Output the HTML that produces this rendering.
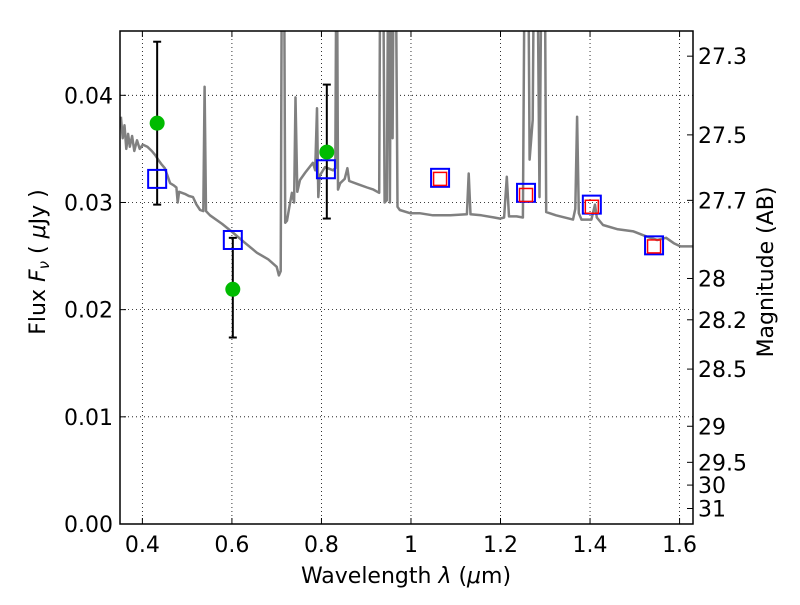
<!DOCTYPE html>
<html><head><meta charset="utf-8"><style>
body{margin:0;background:#fff;}
svg text{font-family:"DejaVu Sans","Liberation Sans",sans-serif;fill:#000;}
</style></head><body>
<svg id="chart" width="800" height="600" xmlns="http://www.w3.org/2000/svg">
<rect width="800" height="600" fill="#fff"/>
<g id="grid"></g>
<g id="spec"></g>
<g id="marks"></g>
<rect x="120" y="31" width="573" height="493" fill="none" stroke="#000" stroke-width="1.5"/>
<g id="axes"></g>
<text x="406" y="583" font-size="22" text-anchor="middle">Wavelength  <tspan font-style="italic">λ</tspan> (<tspan font-style="italic">μ</tspan>m)</text>
<text transform="translate(45,262) rotate(-90)" font-size="22" text-anchor="middle">Flux  <tspan font-style="italic">F</tspan><tspan font-style="italic" font-size="15" dy="4">ν</tspan><tspan dy="-4">  ( </tspan><tspan font-style="italic">μ</tspan>Jy )</text>
<text transform="translate(773,272) rotate(-90)" font-size="22" text-anchor="middle">Magnitude (AB)</text>
</svg>
<script>
const xTicks=[0.4,0.6,0.8,1.0,1.2,1.4,1.6];
const xTickLabels=["0.4","0.6","0.8","1","1.2","1.4","1.6"];
const yTicks=[0,0.01,0.02,0.03,0.04];
const yTickLabels=["0.00","0.01","0.02","0.03","0.04"];
const magTicks=[27.3,27.5,27.7,28,28.2,28.5,29,29.5,30,31];
const magTickLabels=["27.3","27.5","27.7","28","28.2","28.5","29","29.5","30","31"];
const obsLam=[0.433,0.602,0.812];
const obsFlux=[0.0374,0.0219,0.0347];
const obsLo=[0.0298,0.0174,0.0285];
const obsHi=[0.0450,0.0267,0.0410];
const modelLam=[0.433,0.602,0.81,1.065,1.257,1.404,1.543];
const modelFlux=[0.0322,0.0265,0.0331,0.0323,0.0309,0.0298,0.0260];
const nirLam=[1.065,1.257,1.404,1.543];
const nirFlux=[0.0322,0.0307,0.0296,0.0259];
const specLam=[0.352,0.356,0.360,0.364,0.368,0.372,0.377,0.382,0.388,0.394,0.401,0.411,0.421,0.429,0.435,0.442,0.450,0.456,0.462,0.470,0.476,0.479,0.482,0.495,0.504,0.513,0.521,0.529,0.536,0.539,0.542,0.551,0.578,0.602,0.627,0.656,0.681,0.700,0.705,0.709,0.712,0.716,0.719,0.723,0.728,0.734,0.739,0.742,0.746,0.752,0.764,0.781,0.786,0.790,0.793,0.796,0.808,0.826,0.831,0.834,0.837,0.842,0.852,0.858,0.862,0.882,0.902,0.916,0.929,0.932,0.937,0.941,0.946,0.950,0.953,0.956,0.959,0.962,0.965,0.970,0.975,0.998,1.019,1.049,1.088,1.125,1.129,1.133,1.157,1.186,1.199,1.208,1.214,1.219,1.236,1.250,1.255,1.261,1.265,1.272,1.276,1.281,1.287,1.293,1.298,1.302,1.324,1.362,1.367,1.371,1.375,1.381,1.389,1.403,1.411,1.415,1.429,1.462,1.497,1.528,1.550,1.570,1.587,1.602,1.630];
const specFlux=[0.0380,0.0360,0.0372,0.0350,0.0364,0.0352,0.0362,0.0348,0.0358,0.0350,0.0354,0.0352,0.0348,0.0344,0.0340,0.0336,0.0332,0.0325,0.0318,0.0316,0.0314,0.0300,0.0310,0.0308,0.0306,0.0305,0.0298,0.0293,0.0292,0.0408,0.0292,0.0288,0.0280,0.0272,0.0263,0.0253,0.0247,0.0240,0.0232,0.0236,0.060,0.060,0.0281,0.0283,0.0295,0.0309,0.0300,0.0398,0.0310,0.0321,0.0328,0.0337,0.0330,0.0388,0.0305,0.0325,0.0333,0.0330,0.0332,0.060,0.0312,0.0318,0.0322,0.0332,0.0320,0.0317,0.0314,0.0312,0.0309,0.060,0.060,0.0300,0.0302,0.060,0.0300,0.060,0.0360,0.060,0.060,0.0296,0.0293,0.0290,0.0290,0.0288,0.0288,0.0289,0.0327,0.0289,0.0288,0.0286,0.0285,0.0286,0.0324,0.0287,0.0287,0.0286,0.060,0.060,0.0340,0.0377,0.060,0.060,0.0305,0.060,0.060,0.0291,0.0288,0.0284,0.0294,0.0380,0.0290,0.0284,0.0284,0.0284,0.0298,0.0286,0.0279,0.0275,0.0273,0.0268,0.0265,0.0267,0.0262,0.0259,0.0259];

const L=120,R=693,T=31,B=524,xmin=0.35,xmax=1.63,ymin=0,ymax=0.046;
const X=v=>L+(v-xmin)/(xmax-xmin)*(R-L);
const Y=v=>B-(v-ymin)/(ymax-ymin)*(B-T);
const magToFlux=m=>Math.pow(10,(23.9-m)/2.5);
const NS="http://www.w3.org/2000/svg";
function mk(tag,attrs,parent){const e=document.createElementNS(NS,tag);for(const k in attrs)e.setAttribute(k,attrs[k]);parent.appendChild(e);return e;}
const grid=document.getElementById('grid'),axes=document.getElementById('axes'),spec=document.getElementById('spec'),marks=document.getElementById('marks');

xTicks.forEach((t,i)=>{
  const g=mk('line',{x1:X(t),x2:X(t),y1:T,y2:B,stroke:'#000','stroke-width':0.8,'stroke-dasharray':'1,3'},grid);
  
  
  mk('line',{x1:X(t),x2:X(t),y1:B,y2:B-6,stroke:'#000','stroke-width':1},axes);
  mk('line',{x1:X(t),x2:X(t),y1:T,y2:T+6,stroke:'#000','stroke-width':1},axes);
  const tx=mk('text',{x:X(t),y:B+28,'font-size':22,'text-anchor':'middle'},axes);
  tx.textContent=xTickLabels[i];
  
  
});
yTicks.forEach((t,i)=>{
  if(t>0){const g=mk('line',{x1:L,x2:R,y1:Y(t),y2:Y(t),stroke:'#000','stroke-width':0.8,'stroke-dasharray':'1,3'},grid);
  
  }
  mk('line',{x1:L,x2:L+6,y1:Y(t),y2:Y(t),stroke:'#000','stroke-width':1},axes);
  const tx=mk('text',{x:L-7,y:Y(t)+8,'font-size':22,'text-anchor':'end'},axes);
  tx.textContent=yTickLabels[i];
  
  
});
magTicks.forEach((m,i)=>{
  const y=Y(magToFlux(m));
  mk('line',{x1:R,x2:R-6,y1:y,y2:y,stroke:'#000','stroke-width':1},axes);
  const tx=mk('text',{x:R+5,y:y+8,'font-size':22},axes);
  tx.textContent=magTickLabels[i];
  
  
});

const clip=mk('clipPath',{id:'pc'},document.getElementById('chart'));
mk('rect',{x:L,y:T,width:R-L,height:B-T},clip);
spec.setAttribute('clip-path','url(#pc)');
const pts=specLam.map((l,i)=>X(l).toFixed(1)+','+Y(specFlux[i]).toFixed(1)).join(' ');
const pl=mk('polyline',{points:pts,fill:'none',stroke:'#808080','stroke-width':2.5,'stroke-linejoin':'round'},spec);



obsLam.forEach((l,i)=>{
  const x=X(l);
  const e=mk('line',{x1:x,x2:x,y1:Y(obsLo[i]),y2:Y(obsHi[i]),stroke:'#000','stroke-width':2},marks);
  
  
  mk('line',{x1:x-4,x2:x+4,y1:Y(obsLo[i]),y2:Y(obsLo[i]),stroke:'#000','stroke-width':2},marks);
  mk('line',{x1:x-4,x2:x+4,y1:Y(obsHi[i]),y2:Y(obsHi[i]),stroke:'#000','stroke-width':2},marks);
});
modelLam.forEach((l,i)=>{
  const r=mk('rect',{x:X(l)-9,y:Y(modelFlux[i])-9,width:18,height:18,fill:'none',stroke:'#0000ff','stroke-width':2},marks);
  
  
});
nirLam.forEach((l,i)=>{
  const r=mk('rect',{x:X(l)-6.5,y:Y(nirFlux[i])-6.5,width:13,height:13,fill:'none',stroke:'#ff0000','stroke-width':1.5},marks);
  
  
});
obsLam.forEach((l,i)=>{
  const c=mk('circle',{cx:X(l),cy:Y(obsFlux[i]),r:7.5,fill:'#00bb00'},marks);
  
  
});
</script>
</body></html>
